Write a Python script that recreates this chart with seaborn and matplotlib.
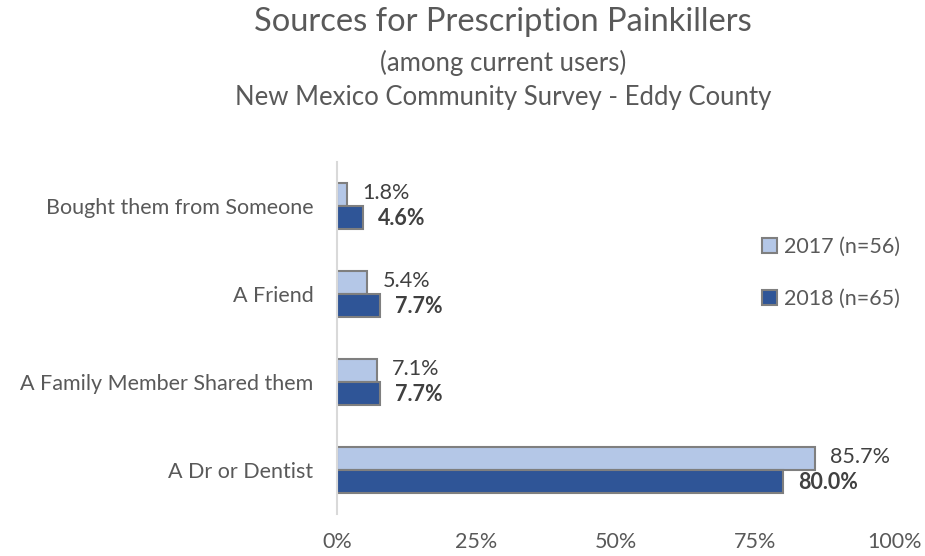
import matplotlib
matplotlib.use("Agg")
import matplotlib.pyplot as plt
import seaborn as sns
import pandas as pd

categories = ["Bought them from Someone", "A Friend", "A Family Member Shared them", "A Dr or Dentist"]
series_names = ["2017 (n=56)", "2018 (n=65)"]
values_2017 = [1.8, 5.4, 7.1, 85.7]
values_2018 = [4.6, 7.7, 7.7, 80.0]
x_ticks = [0, 25, 50, 75, 100]
x_tick_labels = ["0%", "25%", "50%", "75%", "100%"]

colors = ["#B4C7E7", "#2F5597"]
FONT = ["Lato", "DejaVu Sans"]

df = pd.DataFrame({
    "category": categories * 2,
    "value": values_2017 + values_2018,
    "series": [series_names[0]] * 4 + [series_names[1]] * 4,
})

sns.set_theme(style="white")
plt.rcParams["font.family"] = FONT

fig = plt.figure(figsize=(9.25, 5.56), dpi=100)
ax = fig.add_axes([0.3643, 0.0755, 0.6032, 0.633])

sns.barplot(data=df, y="category", x="value", hue="series", order=categories,
            hue_order=series_names, palette=colors, orient="h", width=0.52,
            edgecolor="#7F7F7F", linewidth=1.5, ax=ax, errorbar=None, saturation=1)

ax.set_xlim(0, 100)
ax.set_ylim(3.5, -0.5)
ax.set_xticks(x_ticks)
ax.set_xticklabels(x_tick_labels)
ax.set_xlabel("")
ax.set_ylabel("")
for s in ["top", "right", "bottom"]:
    ax.spines[s].set_visible(False)
ax.spines["left"].set_color("#D9D9D9")
ax.spines["left"].set_linewidth(1.5)
ax.tick_params(axis="x", length=0, pad=13, labelsize=15.5, labelcolor="#595959")
ax.tick_params(axis="y", length=0, pad=17, labelsize=15.5, labelcolor="#595959")

# data labels
for i, cont in enumerate(ax.containers):
    vals = values_2017 if i == 0 else values_2018
    for bar, v in zip(cont, vals):
        y = bar.get_y() + bar.get_height() / 2
        x = bar.get_width()
        if i == 0:
            ax.annotate(f"{v:.1f}%", (x, y), xytext=(11, 1), textcoords="offset points",
                        va="center", ha="left", fontsize=15.5, color="#404040")
        else:
            ax.annotate(f"{v:.1f}%", (x, y), xytext=(11, -1), textcoords="offset points",
                        va="center", ha="left", fontsize=15.5, color="#404040", fontweight="bold")

handles, labels = ax.get_legend_handles_labels()
ax.legend(handles, labels, loc="center left", bbox_to_anchor=(762 / 925, 1 - 273 / 556),
          bbox_transform=fig.transFigure, frameon=False, fontsize=15.5,
          labelcolor="#595959", handlelength=0.7, handleheight=0.7,
          handletextpad=0.3, labelspacing=1.5, borderpad=0, borderaxespad=0)

cx = 503 / 925
fig.text(cx, 1 - 31 / 556, "Sources for Prescription Painkillers", ha="center", va="baseline",
         fontsize=23.5, color="#595959")
fig.text(cx, 1 - 71 / 556, "(among current users)", ha="center", va="baseline",
         fontsize=18.5, color="#595959")
fig.text(cx, 1 - 105 / 556, "New Mexico Community Survey - Eddy County", ha="center", va="baseline",
         fontsize=18.5, color="#595959")

fig.savefig("out.png", dpi=100)
